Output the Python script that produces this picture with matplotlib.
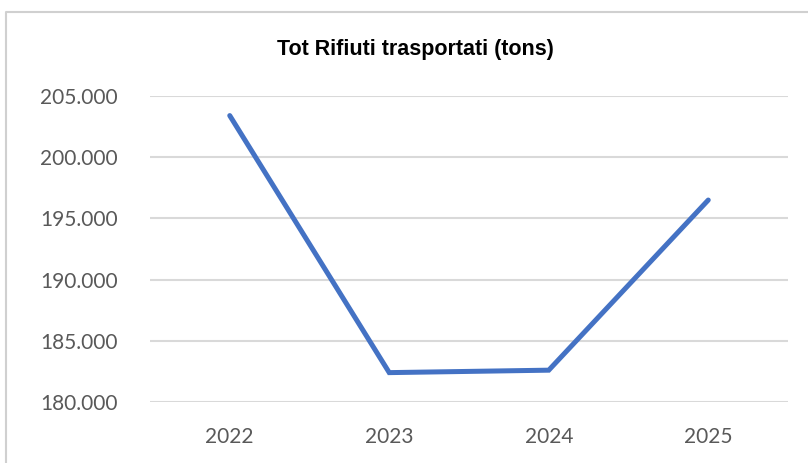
import matplotlib
matplotlib.use("Agg")
import matplotlib.pyplot as plt
from matplotlib.lines import Line2D
from matplotlib.ticker import FuncFormatter

years = ["2022", "2023", "2024", "2025"]
tons = [203400, 182400, 182600, 196500]
y_ticks = [180000, 185000, 190000, 195000, 200000, 205000]

W, H = 808, 463
fig = plt.figure(figsize=(W / 100, H / 100), dpi=100)
fig.patch.set_facecolor("white")

# chart-area border (cropped on the right and bottom in the reference)
fig.add_artist(Line2D([6 / W, 6 / W, 1.0], [0.0, 1 - 12 / H, 1 - 12 / H],
                      transform=fig.transFigure, color="#d0d0d0", linewidth=1.5))

ax = fig.add_axes([150 / W, 1 - 402 / H, (788 - 150) / W, (402 - 96) / H])
x = range(len(years))
ax.plot(x, tons, color="#4472C4", linewidth=3.6, solid_joinstyle="miter",
        solid_capstyle="round", zorder=3)

ax.set_xlim(-0.5, len(years) - 0.5)
ax.set_ylim(y_ticks[0], y_ticks[-1])
ax.set_xticks(list(x))
ax.set_xticklabels(years)
ax.set_yticks(y_ticks)
ax.yaxis.set_major_formatter(FuncFormatter(lambda v, _: f"{int(v):,}".replace(",", ".")))

ax.grid(axis="y", color="#d9d9d9", linewidth=1.5)
ax.set_axisbelow(True)
for s in ax.spines.values():
    s.set_visible(False)

ax.tick_params(axis="both", length=0, labelsize=15, labelcolor="#595959")
ax.tick_params(axis="y", pad=23)
ax.tick_params(axis="x", pad=18)
for lab in ax.get_xticklabels() + ax.get_yticklabels():
    lab.set_family(["Lato", "DejaVu Sans"])

fig.text(415 / W, 1 - 50 / H, "Tot Rifiuti trasportati (tons)", ha="center", va="center",
         fontsize=15.5, fontweight="bold", family=["Liberation Sans", "DejaVu Sans"],
         color="#000000")

fig.savefig("out.png", dpi=100)
